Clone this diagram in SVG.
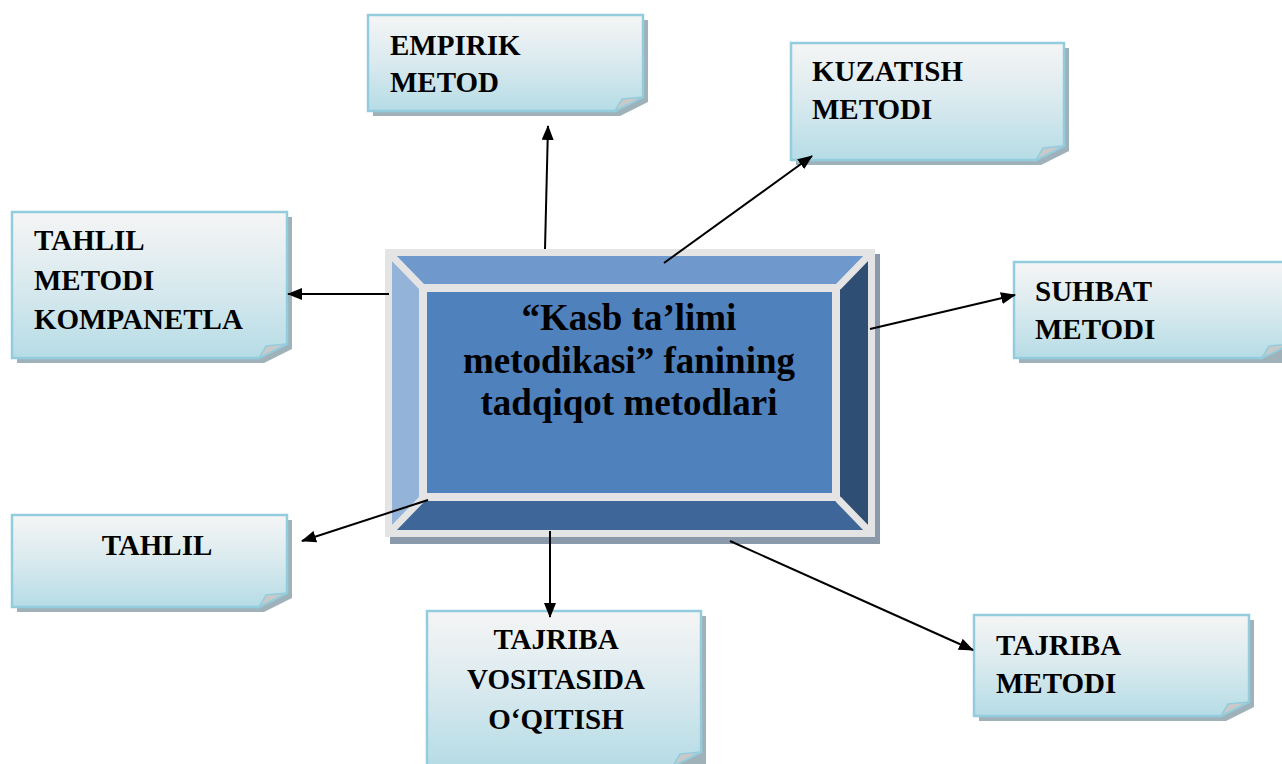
<svg xmlns="http://www.w3.org/2000/svg" width="1282" height="764" viewBox="0 0 1282 764">
<defs>
<linearGradient id="cardg" x1="0" y1="0" x2="0" y2="1">
<stop offset="0" stop-color="#f5f5f5"/>
<stop offset="0.45" stop-color="#dcebef"/>
<stop offset="1" stop-color="#b6dce6"/>
</linearGradient>
<marker id="ah" markerWidth="15" markerHeight="12" refX="14" refY="6" orient="auto" markerUnits="userSpaceOnUse">
<path d="M0,0 L15,6 L0,12 Z" fill="#000"/>
</marker>
</defs>
<style>
.shadow{fill:#9fb2ba}
.card{fill:url(#cardg);stroke:#93cddd;stroke-width:2.5}
.curl{fill:#c9c9c9;stroke:#93cddd;stroke-width:1.5}
.t{font-family:"Liberation Serif","Times New Roman",serif;font-weight:bold;font-size:29px;fill:#000}
.ct{font-family:"Liberation Serif","Times New Roman",serif;font-weight:bold;font-size:37px;fill:#000}
.conn line{stroke:#000;stroke-width:2;marker-end:url(#ah)}
</style>
<rect width="1282" height="764" fill="#fff"/>

<g id="empirik">
<path class="shadow" d="M373,20 H648 V102 L620,116 H373 Z"/>
<path class="card" d="M368,15 H643 V97 L615,111 H368 Z"/>
<path class="curl" d="M615,111 L622,99 L643,97 Z"/>
<text class="t" x="390" y="55">EMPIRIK</text>
<text class="t" x="390" y="92">METOD</text>
</g>

<g id="kuzatish">
<path class="shadow" d="M796,48 H1069 V151 L1041,165 H796 Z"/>
<path class="card" d="M791,43 H1064 V146 L1036,160 H791 Z"/>
<path class="curl" d="M1036,160 L1043,148 L1064,146 Z"/>
<text class="t" x="812" y="81">KUZATISH</text>
<text class="t" x="812" y="119">METODI</text>
</g>

<g id="tahlil-metodi">
<path class="shadow" d="M17,217 H292 V349 L264,363 H17 Z"/>
<path class="card" d="M12,212 H287 V344 L259,358 H12 Z"/>
<path class="curl" d="M259,358 L266,346 L287,344 Z"/>
<text class="t" x="34" y="250">TAHLIL</text>
<text class="t" x="34" y="290">METODI</text>
<text class="t" x="34" y="329">KOMPANETLA</text>
</g>

<g id="suhbat">
<path class="shadow" d="M1019,267 H1287 V363 H1019 Z"/>
<path class="card" d="M1014,262 H1290 V344 L1262,358 H1014 Z"/>
<path class="curl" d="M1262,358 L1269,346 L1290,344 Z"/>
<text class="t" x="1035" y="301">SUHBAT</text>
<text class="t" x="1035" y="339">METODI</text>
</g>

<g id="tahlil">
<path class="shadow" d="M17,520 H292 V598 L264,612 H17 Z"/>
<path class="card" d="M12,515 H287 V593 L259,607 H12 Z"/>
<path class="curl" d="M259,607 L266,595 L287,593 Z"/>
<text class="t" x="157" y="555" text-anchor="middle">TAHLIL</text>
</g>

<g id="tajriba-vositasida">
<path class="shadow" d="M432,616 H706 V769 H432 Z"/>
<path class="card" d="M427,611 H701 V752 L673,766 H427 Z"/>
<path class="curl" d="M673,766 L680,754 L701,752 Z"/>
<text class="t" x="556" y="649" text-anchor="middle">TAJRIBA</text>
<text class="t" x="556" y="689" text-anchor="middle">VOSITASIDA</text>
<text class="t" x="556" y="729" text-anchor="middle">O‘QITISH</text>
</g>

<g id="tajriba-metodi">
<path class="shadow" d="M979,620 H1254 V707 L1226,721 H979 Z"/>
<path class="card" d="M974,615 H1249 V702 L1221,716 H974 Z"/>
<path class="curl" d="M1221,716 L1228,704 L1249,702 Z"/>
<text class="t" x="996" y="655">TAJRIBA</text>
<text class="t" x="996" y="693">METODI</text>
</g>

<g id="center">
<rect x="390" y="254" width="490" height="290" fill="#8a9aaa"/>
<rect x="385" y="249" width="490" height="288" fill="#e4e4e4"/>
<polygon points="392,256 868,256 840,285 420,285" fill="#6f99cc"/>
<polygon points="392,256 420,285 420,500 392,530" fill="#94b3d9"/>
<polygon points="868,256 868,530 840,500 840,285" fill="#2f4e73"/>
<polygon points="392,530 420,500 840,500 868,530" fill="#3e6699"/>
<g stroke="#e4e4e4" stroke-width="7">
<line x1="392" y1="256" x2="422" y2="287"/>
<line x1="868" y1="256" x2="838" y2="287"/>
<line x1="392" y1="530" x2="422" y2="499"/>
<line x1="868" y1="530" x2="838" y2="499"/>
</g>
<rect x="419" y="284" width="421" height="217" fill="#e4e4e4"/>
<rect x="427" y="292" width="405" height="201" fill="#4f81bd"/>
<text class="ct" x="629" y="330" text-anchor="middle">“Kasb ta’limi</text>
<text class="ct" x="629" y="373" text-anchor="middle">metodikasi” fanining</text>
<text class="ct" x="629" y="415" text-anchor="middle">tadqiqot metodlari</text>
</g>

<g class="conn">
<line x1="545" y1="249" x2="548" y2="126"/>
<line x1="664" y1="263" x2="812" y2="156"/>
<line x1="389" y1="294" x2="288" y2="294"/>
<line x1="870" y1="329" x2="1015" y2="295"/>
<line x1="428" y1="500" x2="302" y2="541"/>
<line x1="550" y1="531" x2="550" y2="617"/>
<line x1="730" y1="541" x2="973" y2="650"/>
</g>
</svg>
